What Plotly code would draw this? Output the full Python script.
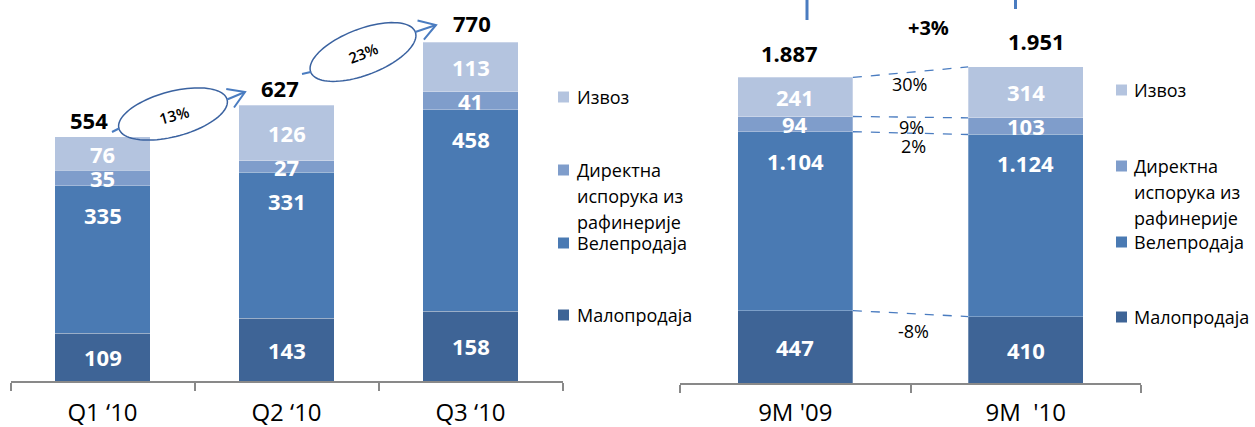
import numpy as np
import plotly.graph_objects as go

W, H = 1255, 427

# ---------------- data ----------------
quarters = ["Q1 \u201810", "Q2 \u201810", "Q3 \u201810"]
periods = ["9M '09", "9M\u00a0 '10"]
q_retail = [109, 143, 158]
q_wholesale = [335, 331, 458]
q_direct = [35, 27, 41]
q_export = [76, 126, 113]
q_totals = [554, 627, 770]
q_growth = ["13%", "23%"]

p_retail = [447, 410]
p_wholesale = [1104, 1124]
p_direct = [94, 103]
p_export = [241, 314]
p_totals = [1887, 1951]
p_changes = ["-8%", "2%", "9%", "30%"]
p_total_change = "+3%"

legend_lines = [["Извоз"], ["Директна", "испорука из", "рафинерије"], ["Велепродаја"], ["Малопродаја"]]

# ---------------- style ----------------
FONT = "Open Sans"
C_RETAIL = "#3E6496"
C_WHOLE = "#4A7AB3"
C_DIRECT = "#7F9DCB"
C_EXPORT = "#B4C4DF"
AX = "#898989"
BLUE = "#4A7CC0"
colors = [C_RETAIL, C_WHOLE, C_DIRECT, C_EXPORT]


def fmt(v):
    return f"{v:,}".replace(",", ".")


def px(x):
    return x / W


def py(y):
    return 1 - y / H


fig = go.Figure()

charts = [
    ("x", "y", quarters, [q_retail, q_wholesale, q_direct, q_export], 0.52),
    ("x2", "y2", periods, [p_retail, p_wholesale, p_direct, p_export], 0.5),
]
for xa, ya, cats, segs, bw in charts:
    for vals, col in zip(segs, colors):
        fig.add_bar(x=cats, y=vals, xaxis=xa, yaxis=ya, width=bw,
                    marker=dict(color=col, line=dict(color="rgba(255,255,255,0.35)", width=0.8)),
                    hoverinfo="skip")

annotations = []
shapes = []

# segment labels
for xa, ya, cats, segs, _ in charts:
    base = np.zeros(len(cats))
    for si, vals in enumerate(segs):
        vals = np.array(vals, dtype=float)
        for i, c in enumerate(cats):
            if si == 1:
                yv, ysh = base[i] + vals[i], -29
            else:
                yv, ysh = base[i] + vals[i] / 2, 0
            annotations.append(dict(x=c, y=yv, xref=xa, yref=ya, text=fmt(int(vals[i])),
                                    showarrow=False, yshift=ysh, xanchor="center", yanchor="middle",
                                    font=dict(family=FONT, size=22, color="white", weight="bold")))
        base = base + vals

# totals
q_stack = np.sum([q_retail, q_wholesale, q_direct, q_export], axis=0)
p_stack = np.sum([p_retail, p_wholesale, p_direct, p_export], axis=0)
q_tx = [-14, -7, 1]
q_ty = [17, 17, 19]
for i, c in enumerate(quarters):
    annotations.append(dict(x=c, y=q_stack[i], xref="x", yref="y", text=fmt(q_totals[i]),
                            showarrow=False, xshift=q_tx[i], yshift=q_ty[i], xanchor="center", yanchor="middle",
                            font=dict(family=FONT, size=22, color="black", weight="bold")))
p_tx = [-6, 11]
p_ty = [24, 26]
for i, c in enumerate(periods):
    annotations.append(dict(x=c, y=p_stack[i], xref="x2", yref="y2", text=fmt(p_totals[i]),
                            showarrow=False, xshift=p_tx[i], yshift=p_ty[i], xanchor="center", yanchor="middle",
                            font=dict(family=FONT, size=22, color="black", weight="bold")))

# dashed connectors between 9M bars
bounds09 = np.cumsum([p_retail[0], p_wholesale[0], p_direct[0], p_export[0]])
bounds10 = np.cumsum([p_retail[1], p_wholesale[1], p_direct[1], p_export[1]])
for a, b in zip(bounds09, bounds10):
    shapes.append(dict(type="line", xref="x2", yref="y2", x0=0.25, x1=0.75, y0=a, y1=b,
                       line=dict(color=BLUE, width=1.3, dash="dash")))

# change labels (right)
chg_pos = [(913, 331), (913, 146), (912, 127), (909, 84)]
for t, (xx, yy) in zip(p_changes, chg_pos):
    annotations.append(dict(x=px(xx), y=py(yy), xref="paper", yref="paper", text=t, showarrow=False,
                            xanchor="center", yanchor="middle",
                            font=dict(family=FONT, size=18, color="black")))
annotations.append(dict(x=px(928), y=py(28), xref="paper", yref="paper", text=p_total_change,
                        showarrow=False, xanchor="center", yanchor="middle",
                        font=dict(family=FONT, size=20, color="black", weight="bold")))

# blue bracket stubs at top
shapes.append(dict(type="line", xref="paper", yref="paper", x0=px(807), x1=px(807), y0=py(0), y1=py(20),
                   line=dict(color=BLUE, width=3)))
shapes.append(dict(type="line", xref="paper", yref="paper", x0=px(1015.5), x1=px(1015.5), y0=py(0), y1=py(9),
                   line=dict(color=BLUE, width=3)))


# growth ellipses with arrows (left)
def ellipse_path(cx, cy, a, b, deg, n=90):
    t = np.linspace(0, 2 * np.pi, n)
    th = np.radians(deg)
    X, Y = a * np.cos(t), b * np.sin(t)
    xs = cx + X * np.cos(th) + Y * np.sin(th)
    ys = cy - X * np.sin(th) + Y * np.cos(th)
    pts = [f"{px(x):.5f},{py(y):.5f}" for x, y in zip(xs, ys)]
    return "M " + " L ".join(pts) + " Z"


def line_path(p):
    return "M " + " L ".join(f"{px(x):.5f},{py(y):.5f}" for x, y in p)


def chevron(x0, y0, x1, y1, L=19, ang=32):
    d = np.arctan2(y0 - y1, x0 - x1)
    pts = []
    for s in (+1, -1):
        a = d + s * np.radians(ang)
        pts.append((x1 + L * np.cos(a), y1 + L * np.sin(a)))
    return line_path([pts[0], (x1, y1), pts[1]])


ellipses = [
    dict(c=(173, 114), a=56, b=22.5, deg=15, tail=(112, 132), tip=(245, 92), txt=(174, 115), ang=-15),
    dict(c=(363, 52), a=56, b=23, deg=21, tail=(302, 74), tip=(436, 25), txt=(363, 53), ang=-21),
]
for e, g in zip(ellipses, q_growth):
    cx, cy = e["c"]
    th = np.radians(e["deg"])
    right = (cx + e["a"] * np.cos(th), cy - e["a"] * np.sin(th))
    left = (cx - e["a"] * np.cos(th), cy + e["a"] * np.sin(th))
    shapes.append(dict(type="path", xref="paper", yref="paper", path=ellipse_path(cx, cy, e["a"], e["b"], e["deg"]),
                       line=dict(color="#3A62A0", width=1.5)))
    shapes.append(dict(type="path", xref="paper", yref="paper", path=line_path([e["tail"], left]),
                       line=dict(color=BLUE, width=2)))
    shapes.append(dict(type="path", xref="paper", yref="paper", path=line_path([right, e["tip"]]),
                       line=dict(color=BLUE, width=2)))
    shapes.append(dict(type="path", xref="paper", yref="paper",
                       path=chevron(right[0], right[1], e["tip"][0], e["tip"][1]),
                       line=dict(color=BLUE, width=2)))
    annotations.append(dict(x=px(e["txt"][0]), y=py(e["txt"][1]), xref="paper", yref="paper", text=g,
                            showarrow=False, textangle=e["ang"], xanchor="center", yanchor="middle",
                            font=dict(family=FONT, size=15, color="black", weight=600)))

# legends
legend_sets = [
    dict(sq=558, tx=575, ys=[97, 170, 243, 315]),
    dict(sq=1116, tx=1132, ys=[90, 166, 242, 317]),
]
leg_colors = [C_EXPORT, C_DIRECT, C_WHOLE, C_RETAIL]
for L in legend_sets:
    for lines, col, y0 in zip(legend_lines, leg_colors, L["ys"]):
        shapes.append(dict(type="rect", xref="paper", yref="paper", x0=px(L["sq"]), x1=px(L["sq"] + 11),
                           y0=py(y0 - 5.5), y1=py(y0 + 5.5), fillcolor=col, line=dict(width=0)))
        for k, t in enumerate(lines):
            annotations.append(dict(x=px(L["tx"]), y=py(y0 + 26 * k), xref="paper", yref="paper", text=t,
                                    showarrow=False, xanchor="left", yanchor="middle",
                                    font=dict(family=FONT, size=18, color="black")))

xaxis_common = dict(type="category", showline=True, linecolor=AX, linewidth=1.5, ticks="outside",
                    tickson="boundaries", ticklen=8, tickcolor=AX, tickwidth=1.5, showgrid=False,
                    zeroline=False, fixedrange=True, automargin=False,
                    tickfont=dict(family=FONT, size=24, color="black"))

fig.update_layout(
    width=W, height=H, margin=dict(l=0, r=0, t=0, b=0, autoexpand=False),
    barmode="stack", showlegend=False,
    plot_bgcolor="white", paper_bgcolor="white",
    font=dict(family=FONT),
    xaxis=dict(domain=[px(10.5), px(562.5)], range=[-0.5, 2.5], anchor="y", ticklabelstandoff=9,
               **xaxis_common),
    yaxis=dict(domain=[py(381), 1], range=[0, 381 / 0.44], visible=False, fixedrange=True, automargin=False),
    xaxis2=dict(domain=[px(680), px(1141)], range=[-0.5, 1.5], anchor="y2", ticklabelstandoff=7,
                **xaxis_common),
    yaxis2=dict(domain=[py(383), 1], range=[0, 383 / 0.162], visible=False, fixedrange=True, anchor="x2",
                automargin=False),
    annotations=annotations,
    shapes=shapes,
)

fig.write_html("out.html", config={"displayModeBar": False},
               post_script="document.body.style.margin='0';document.body.style.padding='0';")
